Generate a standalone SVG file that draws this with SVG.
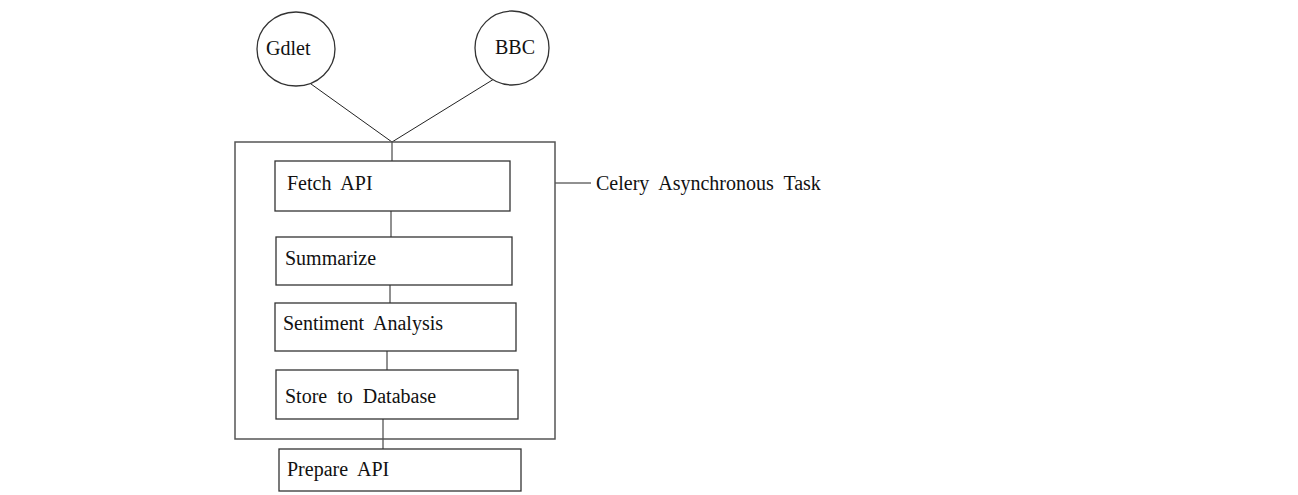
<svg xmlns="http://www.w3.org/2000/svg" width="1298" height="495" viewBox="0 0 1298 495">
<style>
.n{fill:#fff;stroke:#333;stroke-width:1.3}
.o{fill:none;stroke:#555;stroke-width:1.5}
.c{stroke:#222;stroke-width:1;fill:none}
text{font-family:"Liberation Serif","DejaVu Serif",serif;font-size:20px;fill:#111;word-spacing:5px}
</style>
<rect width="1298" height="495" fill="#fff"/>
<g id="connectors">
<line class="c" x1="311" y1="84" x2="392" y2="142"/>
<line class="c" x1="494" y1="79" x2="392" y2="142"/>
<line class="c" x1="392" y1="142" x2="392" y2="161"/>
<line class="c" x1="391" y1="211" x2="391" y2="237"/>
<line class="c" x1="390" y1="285" x2="390" y2="303"/>
<line class="c" x1="387" y1="351" x2="387" y2="370"/>
<line class="c" x1="383" y1="419" x2="383" y2="449"/>
<line class="c" x1="555" y1="183" x2="591" y2="183"/>
</g>
<g id="celery">
<rect class="o" x="235" y="142" width="320" height="297"/>
<text x="596" y="190">Celery Asynchronous Task</text>
</g>
<g id="gdlet">
<ellipse class="n" cx="296" cy="49" rx="39" ry="37"/>
<text x="266" y="55" style="word-spacing:0">Gdlet</text>
</g>
<g id="bbc">
<ellipse class="n" cx="512" cy="48" rx="37" ry="37"/>
<text x="495" y="54">BBC</text>
</g>
<g id="fetch">
<rect class="n" x="275" y="161" width="235" height="50"/>
<text x="287" y="190">Fetch API</text>
</g>
<g id="summarize">
<rect class="n" x="276" y="237" width="236" height="48"/>
<text x="285" y="265">Summarize</text>
</g>
<g id="sentiment">
<rect class="n" x="275" y="303" width="241" height="48"/>
<text x="283" y="330">Sentiment Analysis</text>
</g>
<g id="store">
<rect class="n" x="276" y="370" width="242" height="49"/>
<text x="285" y="403">Store to Database</text>
</g>
<g id="prepare">
<rect class="n" x="279" y="449" width="242" height="42"/>
<text x="287" y="476">Prepare API</text>
</g>
</svg>
